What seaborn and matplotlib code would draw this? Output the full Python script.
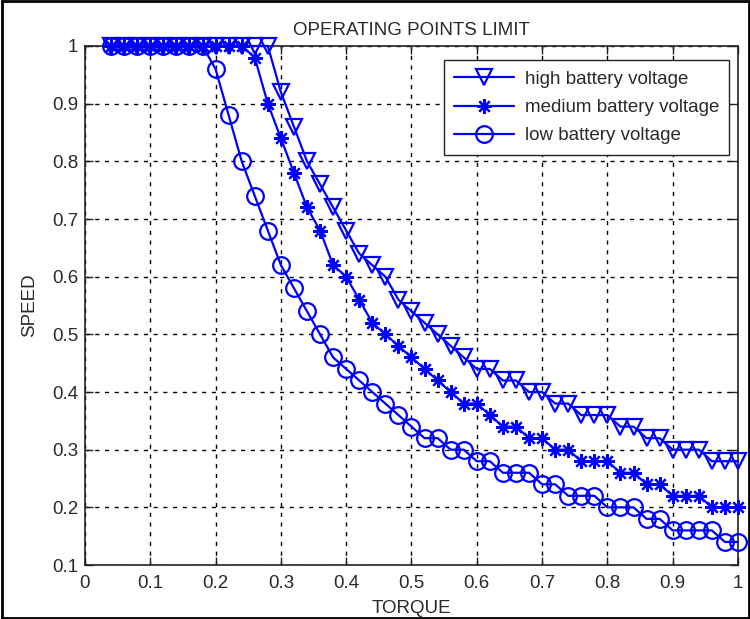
import matplotlib
matplotlib.use("Agg")
import matplotlib.pyplot as plt
import seaborn as sns
from matplotlib.patches import Rectangle

torque = [0.04, 0.06, 0.08, 0.10, 0.12, 0.14, 0.16, 0.18, 0.20, 0.22,
          0.24, 0.26, 0.28, 0.30, 0.32, 0.34, 0.36, 0.38, 0.40, 0.42,
          0.44, 0.46, 0.48, 0.50, 0.52, 0.54, 0.56, 0.58, 0.60, 0.62,
          0.64, 0.66, 0.68, 0.70, 0.72, 0.74, 0.76, 0.78, 0.80, 0.82,
          0.84, 0.86, 0.88, 0.90, 0.92, 0.94, 0.96, 0.98, 1.00]

speed_high = [1.0, 1.0, 1.0, 1.0, 1.0, 1.0, 1.0, 1.0, 1.0, 1.0,
              1.0, 1.0, 1.0, 0.92, 0.86, 0.80, 0.76, 0.72, 0.68, 0.64,
              0.62, 0.60, 0.56, 0.54, 0.52, 0.50, 0.48, 0.46, 0.44, 0.44,
              0.42, 0.42, 0.40, 0.40, 0.38, 0.38, 0.36, 0.36, 0.36, 0.34,
              0.34, 0.32, 0.32, 0.30, 0.30, 0.30, 0.28, 0.28, 0.28]

speed_medium = [1.0, 1.0, 1.0, 1.0, 1.0, 1.0, 1.0, 1.0, 1.0, 1.0,
                1.0, 0.98, 0.90, 0.84, 0.78, 0.72, 0.68, 0.62, 0.60, 0.56,
                0.52, 0.50, 0.48, 0.46, 0.44, 0.42, 0.40, 0.38, 0.38, 0.36,
                0.34, 0.34, 0.32, 0.32, 0.30, 0.30, 0.28, 0.28, 0.28, 0.26,
                0.26, 0.24, 0.24, 0.22, 0.22, 0.22, 0.20, 0.20, 0.20]

speed_low = [1.0, 1.0, 1.0, 1.0, 1.0, 1.0, 1.0, 1.0, 0.96, 0.88,
             0.80, 0.74, 0.68, 0.62, 0.58, 0.54, 0.50, 0.46, 0.44, 0.42,
             0.40, 0.38, 0.36, 0.34, 0.32, 0.32, 0.30, 0.30, 0.28, 0.28,
             0.26, 0.26, 0.26, 0.24, 0.24, 0.22, 0.22, 0.22, 0.20, 0.20,
             0.20, 0.18, 0.18, 0.16, 0.16, 0.16, 0.16, 0.14, 0.14]

series_labels = ["high battery voltage", "medium battery voltage", "low battery voltage"]
x_ticks = [0, 0.1, 0.2, 0.3, 0.4, 0.5, 0.6, 0.7, 0.8, 0.9, 1]
y_ticks = [0.1, 0.2, 0.3, 0.4, 0.5, 0.6, 0.7, 0.8, 0.9, 1]
x_ticklabels = ["0", "0.1", "0.2", "0.3", "0.4", "0.5", "0.6", "0.7", "0.8", "0.9", "1"]
y_ticklabels = ["0.1", "0.2", "0.3", "0.4", "0.5", "0.6", "0.7", "0.8", "0.9", "1"]

sns.set_style("white")
plt.rcParams["font.family"] = ["Liberation Sans", "DejaVu Sans"]
txt = "#2a2a2a"
fs = 13.5

fig = plt.figure(figsize=(7.5, 6.19), dpi=100)
ax = fig.add_axes([0.1133, 0.0872, 0.8707, 0.8385])

blue = "#0000ff"
markers = ["v", (8, 2, 0), "o"]
msizes = [12, 10.5, 12]
for sp, lab, mk, ms in zip([speed_high, speed_medium, speed_low], series_labels, markers, msizes):
    sns.lineplot(x=torque, y=sp, ax=ax, color=blue, linewidth=1.6,
                 marker=mk, markersize=ms, markerfacecolor="none",
                 markeredgecolor=blue, markeredgewidth=1.6,
                 label=lab, clip_on=False, sort=False, zorder=5)

ax.set_xlim(0, 1)
ax.set_ylim(0.1, 1)
ax.set_xticks(x_ticks)
ax.set_xticklabels(x_ticklabels)
ax.set_yticks(y_ticks)
ax.set_yticklabels(y_ticklabels)
ax.tick_params(direction="in", length=6, width=1, colors="#222222",
               labelcolor=txt, labelsize=fs, top=True, right=True,
               bottom=True, left=True)
ax.tick_params(axis="y", pad=5)
ax.tick_params(axis="x", pad=7)
ax.grid(True, color="black", linestyle=(0, (3, 4)), linewidth=1.0)
for s in ax.spines.values():
    s.set_color("#222222")
    s.set_linewidth(1.2)

ax.set_title("OPERATING POINTS LIMIT", fontsize=fs, color=txt, pad=8)
ax.set_xlabel("TORQUE", fontsize=fs, color=txt, labelpad=6)
ax.set_ylabel("SPEED", fontsize=fs, color=txt, labelpad=10)

handles = ax.get_lines()[:3]
leg = ax.legend(handles=handles, labels=series_labels, loc="upper right",
                bbox_to_anchor=(0.9866, 0.9725), fontsize=fs, frameon=True,
                fancybox=False, edgecolor="#222222", framealpha=1,
                handlelength=3.2, handletextpad=0.55, borderpad=0.55,
                labelspacing=0.6, borderaxespad=0.0)
leg.get_frame().set_linewidth(1.0)
for t in leg.get_texts():
    t.set_color(txt)

fig.patches.append(Rectangle((0.002, 0.002), 0.996, 0.996, transform=fig.transFigure,
                             fill=False, edgecolor="black", linewidth=2.0))

fig.savefig("out.png", dpi=100)
